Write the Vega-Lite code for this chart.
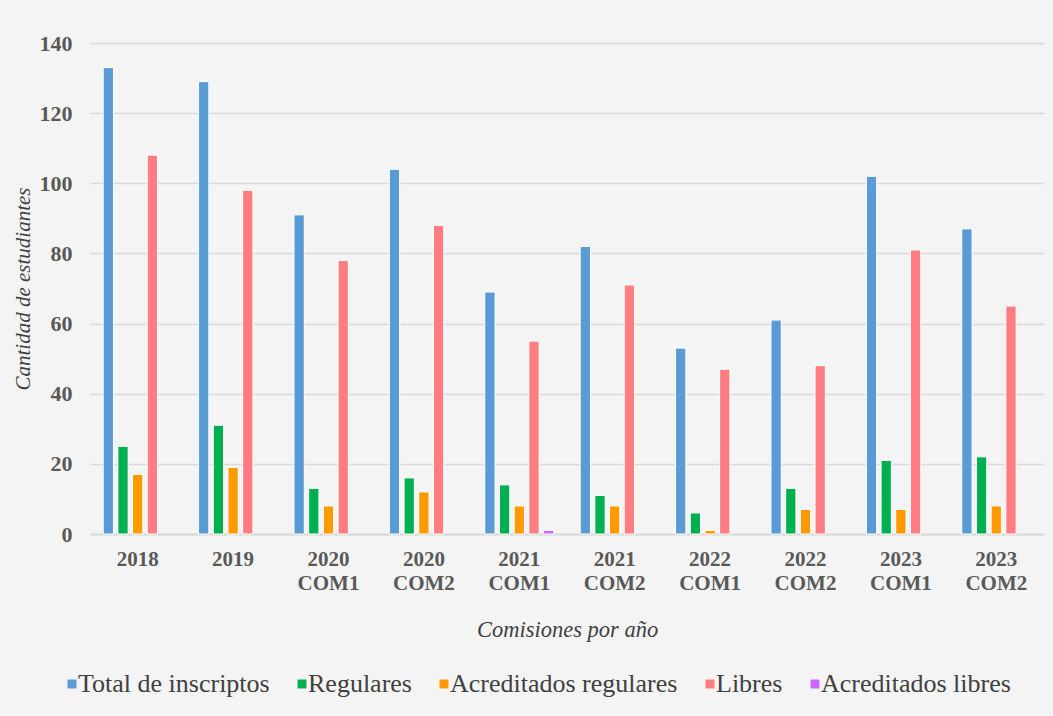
{
  "$schema": "https://vega.github.io/schema/vega-lite/v6.json",
  "width": 954,
  "height": 491,
  "autosize": "none",
  "padding": {"left": 90, "top": 43, "right": 9, "bottom": 182},
  "background": "#f4f4f4",
  "config": {
    "font": "Liberation Serif, serif",
    "view": {"stroke": null},
    "axis": {"labelFont": "Liberation Serif, serif", "titleFont": "Liberation Serif, serif"},
    "legend": {"labelFont": "Liberation Serif, serif"}
  },
  "data": {
    "values": [
      {"grupo": "2018", "serie": "Total de inscriptos", "valor": 133},
      {"grupo": "2018", "serie": "Regulares", "valor": 25},
      {"grupo": "2018", "serie": "Acreditados regulares", "valor": 17},
      {"grupo": "2018", "serie": "Libres", "valor": 108},
      {"grupo": "2018", "serie": "Acreditados libres", "valor": 0},
      {"grupo": "2019", "serie": "Total de inscriptos", "valor": 129},
      {"grupo": "2019", "serie": "Regulares", "valor": 31},
      {"grupo": "2019", "serie": "Acreditados regulares", "valor": 19},
      {"grupo": "2019", "serie": "Libres", "valor": 98},
      {"grupo": "2019", "serie": "Acreditados libres", "valor": 0},
      {"grupo": "2020 COM1", "serie": "Total de inscriptos", "valor": 91},
      {"grupo": "2020 COM1", "serie": "Regulares", "valor": 13},
      {"grupo": "2020 COM1", "serie": "Acreditados regulares", "valor": 8},
      {"grupo": "2020 COM1", "serie": "Libres", "valor": 78},
      {"grupo": "2020 COM1", "serie": "Acreditados libres", "valor": 0},
      {"grupo": "2020 COM2", "serie": "Total de inscriptos", "valor": 104},
      {"grupo": "2020 COM2", "serie": "Regulares", "valor": 16},
      {"grupo": "2020 COM2", "serie": "Acreditados regulares", "valor": 12},
      {"grupo": "2020 COM2", "serie": "Libres", "valor": 88},
      {"grupo": "2020 COM2", "serie": "Acreditados libres", "valor": 0},
      {"grupo": "2021 COM1", "serie": "Total de inscriptos", "valor": 69},
      {"grupo": "2021 COM1", "serie": "Regulares", "valor": 14},
      {"grupo": "2021 COM1", "serie": "Acreditados regulares", "valor": 8},
      {"grupo": "2021 COM1", "serie": "Libres", "valor": 55},
      {"grupo": "2021 COM1", "serie": "Acreditados libres", "valor": 1},
      {"grupo": "2021 COM2", "serie": "Total de inscriptos", "valor": 82},
      {"grupo": "2021 COM2", "serie": "Regulares", "valor": 11},
      {"grupo": "2021 COM2", "serie": "Acreditados regulares", "valor": 8},
      {"grupo": "2021 COM2", "serie": "Libres", "valor": 71},
      {"grupo": "2021 COM2", "serie": "Acreditados libres", "valor": 0},
      {"grupo": "2022 COM1", "serie": "Total de inscriptos", "valor": 53},
      {"grupo": "2022 COM1", "serie": "Regulares", "valor": 6},
      {"grupo": "2022 COM1", "serie": "Acreditados regulares", "valor": 1},
      {"grupo": "2022 COM1", "serie": "Libres", "valor": 47},
      {"grupo": "2022 COM1", "serie": "Acreditados libres", "valor": 0},
      {"grupo": "2022 COM2", "serie": "Total de inscriptos", "valor": 61},
      {"grupo": "2022 COM2", "serie": "Regulares", "valor": 13},
      {"grupo": "2022 COM2", "serie": "Acreditados regulares", "valor": 7},
      {"grupo": "2022 COM2", "serie": "Libres", "valor": 48},
      {"grupo": "2022 COM2", "serie": "Acreditados libres", "valor": 0},
      {"grupo": "2023 COM1", "serie": "Total de inscriptos", "valor": 102},
      {"grupo": "2023 COM1", "serie": "Regulares", "valor": 21},
      {"grupo": "2023 COM1", "serie": "Acreditados regulares", "valor": 7},
      {"grupo": "2023 COM1", "serie": "Libres", "valor": 81},
      {"grupo": "2023 COM1", "serie": "Acreditados libres", "valor": 0},
      {"grupo": "2023 COM2", "serie": "Total de inscriptos", "valor": 87},
      {"grupo": "2023 COM2", "serie": "Regulares", "valor": 22},
      {"grupo": "2023 COM2", "serie": "Acreditados regulares", "valor": 8},
      {"grupo": "2023 COM2", "serie": "Libres", "valor": 65},
      {"grupo": "2023 COM2", "serie": "Acreditados libres", "valor": 0}
    ]
  },
  "mark": {"type": "bar", "stroke": "white", "strokeWidth": 1},
  "encoding": {
    "x": {
      "field": "grupo",
      "type": "nominal",
      "sort": null,
      "scale": {"paddingInner": 0.23, "paddingOuter": 0.115},
      "axis": {
        "title": "Comisiones por año",
        "titleFontStyle": "italic",
        "titleFontWeight": "normal",
        "titleFontSize": 22.5,
        "titleColor": "#404040",
        "titlePadding": 25,
        "labelExpr": "split(datum.label, ' ')",
        "labelAngle": 0,
        "labelFontSize": 21,
        "labelFontWeight": "bold",
        "labelColor": "#595959",
        "labelPadding": 14,
        "labelLineHeight": 24,
        "ticks": false,
        "domainColor": "#d9d9d9",
        "domainWidth": 2,
        "grid": false
      }
    },
    "xOffset": {
      "field": "serie",
      "type": "nominal",
      "scale": {
        "domain": ["Total de inscriptos", "Regulares", "Acreditados regulares", "Libres", "Acreditados libres"],
        "paddingInner": 0.3,
        "paddingOuter": 0.15
      }
    },
    "y": {
      "field": "valor",
      "type": "quantitative",
      "scale": {"domain": [0, 140]},
      "axis": {
        "title": "Cantidad de estudiantes",
        "titleFontStyle": "italic",
        "titleFontWeight": "normal",
        "titleFontSize": 21,
        "titleColor": "#404040",
        "titlePadding": 6,
        "values": [0, 20, 40, 60, 80, 100, 120, 140],
        "labelFontSize": 22,
        "labelFontWeight": "bold",
        "labelColor": "#595959",
        "labelPadding": 18,
        "ticks": false,
        "domain": false,
        "gridColor": "#d9d9d9",
        "gridWidth": 1.5
      }
    },
    "strokeOpacity": {
      "condition": {"test": "datum.valor > 0", "value": 1},
      "value": 0
    },
    "color": {
      "field": "serie",
      "type": "nominal",
      "scale": {
        "domain": ["Total de inscriptos", "Regulares", "Acreditados regulares", "Libres", "Acreditados libres"],
        "range": ["#5b9bd5", "#00b050", "#ff9900", "#ff7c80", "#cc66ff"]
      },
      "legend": {
        "title": null,
        "orient": "none",
        "legendX": -31,
        "legendY": 628,
        "direction": "horizontal",
        "symbolType": "square",
        "symbolSize": 80,
        "symbolStrokeWidth": 0,
        "labelFontSize": 26,
        "labelColor": "#404040",
        "labelOffset": -7,
        "labelLimit": 0,
        "columnPadding": 19
      }
    }
  }
}
